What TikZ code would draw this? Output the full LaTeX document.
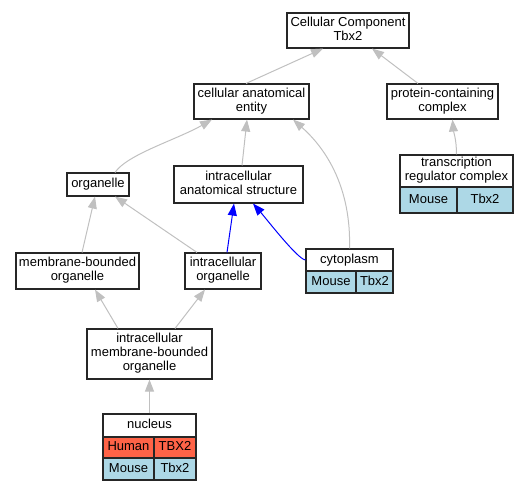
\documentclass[tikz,border=0pt]{standalone}
\usepackage{fontspec}
\setmainfont{Liberation Sans}
\usetikzlibrary{arrows.meta}
\definecolor{eg}{RGB}{192,192,192}
\definecolor{hum}{RGB}{255,99,71}
\definecolor{mou}{RGB}{173,216,230}
\newcommand{\sst}{\rule[-3.6pt]{0pt}{14pt}}
\begin{document}
\begin{tikzpicture}[x=1pt,y=-1pt,
  box/.style={draw=black!85, line width=1.1pt, fill=white, inner sep=0pt, align=center,
    font=\fontsize{13}{14}\selectfont, execute at begin node=\sst, execute at end node=\sst},
  hcell/.style={box, fill=hum},
  mcell/.style={box, fill=mou},
  gedge/.style={draw=eg, line width=1pt, -{Triangle[length=12pt,width=9pt]}},
  bedge/.style={draw=blue, line width=1pt, -{Triangle[length=12pt,width=9pt]}}]
\useasboundingbox (0,0) rectangle (529,491);

% nodes
\node[box, minimum width=122, minimum height=35] (cc) at (348,30.5) {Cellular Component\\Tbx2};
\node[box, minimum width=115, minimum height=35] (cae) at (251.5,101.5) {cellular anatomical\\entity};
\node[box, minimum width=111, minimum height=35] (pcc) at (442.5,101.5) {protein-containing\\complex};
\node[box, minimum width=113, minimum height=32] (trc) at (456.5,171) {transcription\\regulator complex};
\node[mcell, minimum width=57, minimum height=26] (trcm) at (428.5,200) {Mouse};
\node[mcell, minimum width=56, minimum height=26] (trcg) at (485,200) {Tbx2};
\node[box, minimum width=62, minimum height=23] (org) at (98,184.5) {organelle};
\node[box, minimum width=129, minimum height=37] (ias) at (238.5,184.5) {intracellular\\anatomical structure};
\node[box, minimum width=123, minimum height=36] (mbo) at (77.5,271) {membrane-bounded\\organelle};
\node[box, minimum width=76, minimum height=36] (io) at (223,271) {intracellular\\organelle};
\node[box, minimum width=87, minimum height=22] (cyto) at (349.5,260) {cytoplasm};
\node[mcell, minimum width=50, minimum height=22] (cytom) at (331,282) {Mouse};
\node[mcell, minimum width=37, minimum height=22] (cytog) at (374.5,282) {Tbx2};
\node[box, minimum width=125, minimum height=50] (icm) at (149.5,354) {intracellular\\membrane-bounded\\organelle};
\node[box, minimum width=93, minimum height=23] (nuc) at (149.5,425.5) {nucleus};
\node[hcell, minimum width=51, minimum height=21] (nuch) at (128.5,447.5) {Human};
\node[hcell, minimum width=42, minimum height=21] (nuchg) at (175,447.5) {TBX2};
\node[mcell, minimum width=51, minimum height=22] (nucm) at (128.5,469) {Mouse};
\node[mcell, minimum width=42, minimum height=22] (nucmg) at (175,469) {Tbx2};

% edges
\draw[gedge] ([xshift=-5.5pt]cae.north) -- ([xshift=-25pt]cc.south);
\draw[gedge] ([xshift=-24.5pt]pcc.north) -- ([xshift=24pt]cc.south);
\draw[gedge] (trc.north) .. controls +(0,-15) and +(1,12) .. ([xshift=10pt]pcc.south);
\draw[gedge] ([xshift=17pt]org.north) .. controls +(12,-18) and +(-35,20) .. ([xshift=-39.5pt]cae.south);
\draw[gedge] ([xshift=3.5pt]ias.north) -- ([xshift=-4.5pt]cae.south);
\draw[gedge] (cyto.north) .. controls +(2,-70) and +(25,22) .. ([xshift=41.5pt]cae.south);
\draw[gedge] ([xshift=4.5pt]mbo.north) -- ([xshift=-3pt]org.south);
\draw[gedge] ([xshift=-26pt]io.north) -- ([xshift=17pt]org.south);
\draw[bedge] ([xshift=4pt]io.north) -- ([xshift=-4.5pt]ias.south);
\draw[bedge] (cyto.west) .. controls +(-8,-1) and +(14,16) .. ([xshift=14.5pt]ias.south);
\draw[gedge] ([xshift=-31.5pt]icm.north) -- ([xshift=17.5pt]mbo.south);
\draw[gedge] ([xshift=25.5pt]icm.north) -- ([xshift=-18pt]io.south);
\draw[gedge] (nuc.north) -- (icm.south);
\end{tikzpicture}
\end{document}
